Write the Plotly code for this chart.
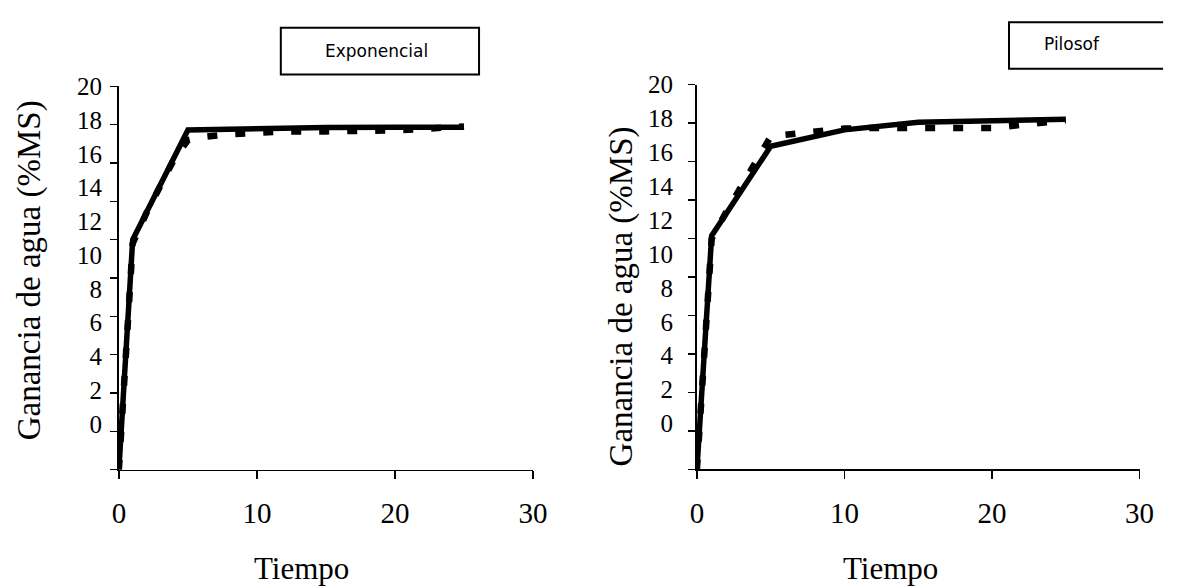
import plotly.graph_objects as go

# ---------------- data ----------------
time_model = [0, 1, 5, 10, 15, 20, 25]
exp_model_vals = [0, 12.0, 17.72, 17.82, 17.85, 17.86, 17.86]
pil_model_vals = [0, 12.15, 16.8, 17.65, 18.05, 18.15, 18.2]

time_obs = [0, 1, 2, 3, 4, 5, 6, 8, 10, 12, 15, 20, 25]
exp_obs_vals = [0, 11.8, 13.4, 14.8, 16.2, 17.2, 17.35, 17.5, 17.6, 17.65, 17.65, 17.7, 17.9]
pil_obs_vals = [0, 12.0, 13.4, 14.7, 16.0, 17.3, 17.4, 17.6, 17.72, 17.75, 17.75, 17.75, 18.15]

x_ticks = [0, 10, 20, 30]
y_tick_labels = [0, 2, 4, 6, 8, 10, 12, 14, 16, 18, 20]
panel_names = ["Exponencial", "Pilosof"]
x_title = "Tiempo"
y_title = "Ganancia de agua (%MS)"

# ---------------- figure ----------------
W, H = 1183, 587
SERIF = "Liberation Serif"
BLACK = "#000000"

def px_x(p):                 # pixel -> paper fraction
    return p / W

def px_y(p):
    return 1 - p / H

fig = go.Figure()

panels = [
    dict(x="x", y="y", yl="y3", obs=exp_obs_vals, mod=exp_model_vals),
    dict(x="x2", y="y2", yl="y4", obs=pil_obs_vals, mod=pil_model_vals),
]
for p in panels:
    fig.add_trace(go.Scatter(
        x=time_obs, y=p["obs"], xaxis=p["x"], yaxis=p["y"], mode="lines",
        line=dict(color=BLACK, width=6.5, dash="10px,18px"),
        showlegend=False, hoverinfo="skip"))
    fig.add_trace(go.Scatter(
        x=time_model, y=p["mod"], xaxis=p["x"], yaxis=p["y"], mode="lines",
        line=dict(color=BLACK, width=5.5),
        showlegend=False, hoverinfo="skip"))
    # invisible trace so the labelled overlay axis is drawn
    fig.add_trace(go.Scatter(
        x=[0], y=[0], xaxis=p["x"], yaxis=p["yl"], mode="markers",
        marker=dict(size=1, opacity=0), showlegend=False, hoverinfo="skip"))

xcommon = dict(range=[0, 30], tickvals=x_ticks, ticks="outside", ticklen=8,
               tickwidth=1.5, tickcolor=BLACK, showline=True, linecolor=BLACK,
               linewidth=1.5, showgrid=False, zeroline=False,
               tickfont=dict(family=SERIF, size=29, color=BLACK),
               ticklabelstandoff=9)
ycommon = dict(range=[0, 20], dtick=2, tick0=0, ticks="outside", ticklen=7,
               tickwidth=1.5, tickcolor=BLACK, showline=True, linecolor=BLACK,
               linewidth=1.5, showgrid=False, zeroline=False,
               showticklabels=False)
ylabels = dict(range=[-2.71, 20.001], tickvals=y_tick_labels,
               ticktext=[str(v) for v in y_tick_labels], ticks="",
               showline=False, showgrid=False, zeroline=False,
               tickfont=dict(family=SERIF, size=25, color=BLACK))

fig.update_layout(
    width=W, height=H,
    margin=dict(l=0, r=0, t=0, b=0),
    paper_bgcolor="white", plot_bgcolor="white",
    xaxis=dict(domain=[px_x(114), px_x(536)], anchor="y", **xcommon),
    xaxis2=dict(domain=[px_x(703), px_x(1154)], anchor="y2", **xcommon),
    yaxis=dict(domain=[px_y(467), px_y(75)], anchor="x", **ycommon),
    yaxis2=dict(domain=[px_y(466.7), px_y(73.3)], anchor="x2", **ycommon),
    yaxis3=dict(domain=[px_y(467), px_y(75)], overlaying="y", anchor="x",
                side="left", ticklabelstandoff=16, **ylabels),
    yaxis4=dict(domain=[px_y(466.7), px_y(73.3)], overlaying="y2", anchor="x2",
                side="left", ticklabelstandoff=23, **ylabels),
)

# legend-like boxes
fig.add_shape(type="rect", xref="paper", yref="paper",
              x0=px_x(279), x1=px_x(481), y0=px_y(63), y1=px_y(15),
              line=dict(color=BLACK, width=2), fillcolor="white")
fig.add_shape(type="path", xref="paper", yref="paper",
              path=(f"M {px_x(1178)} {px_y(9.5)} L {px_x(1021)} {px_y(9.5)} "
                    f"L {px_x(1021)} {px_y(57)} L {px_x(1178)} {px_y(57)}"),
              line=dict(color=BLACK, width=2))
fig.add_annotation(text=panel_names[0], xref="paper", yref="paper",
                   x=px_x(377), y=px_y(38.5), showarrow=False,
                   xanchor="center", yanchor="middle",
                   font=dict(family="DejaVu Sans", size=17, color=BLACK))
fig.add_annotation(text=panel_names[1], xref="paper", yref="paper",
                   x=px_x(1085), y=px_y(32), showarrow=False,
                   xanchor="center", yanchor="middle",
                   font=dict(family="DejaVu Sans", size=17, color=BLACK))

# axis titles
for cx in (300, 900):
    fig.add_annotation(text=x_title, xref="paper", yref="paper",
                       x=px_x(cx), y=px_y(568), showarrow=False,
                       xanchor="center", yanchor="middle",
                       font=dict(family=SERIF, size=31, color=BLACK))
for cx, cy in ((22.5, 263), (626.5, 290)):
    fig.add_annotation(text=y_title, xref="paper", yref="paper",
                       x=px_x(cx), y=px_y(cy), showarrow=False, textangle=-90,
                       xanchor="center", yanchor="middle",
                       font=dict(family=SERIF, size=33, color=BLACK))

# the page's default 8px body margin would push the fixed-size figure
# off the 1183x587 window; remove it
fig.write_html("out.html",
               config={"displayModeBar": False, "staticPlot": True},
               post_script="document.body.style.margin='0';"
                           "document.body.style.overflow='hidden';")
